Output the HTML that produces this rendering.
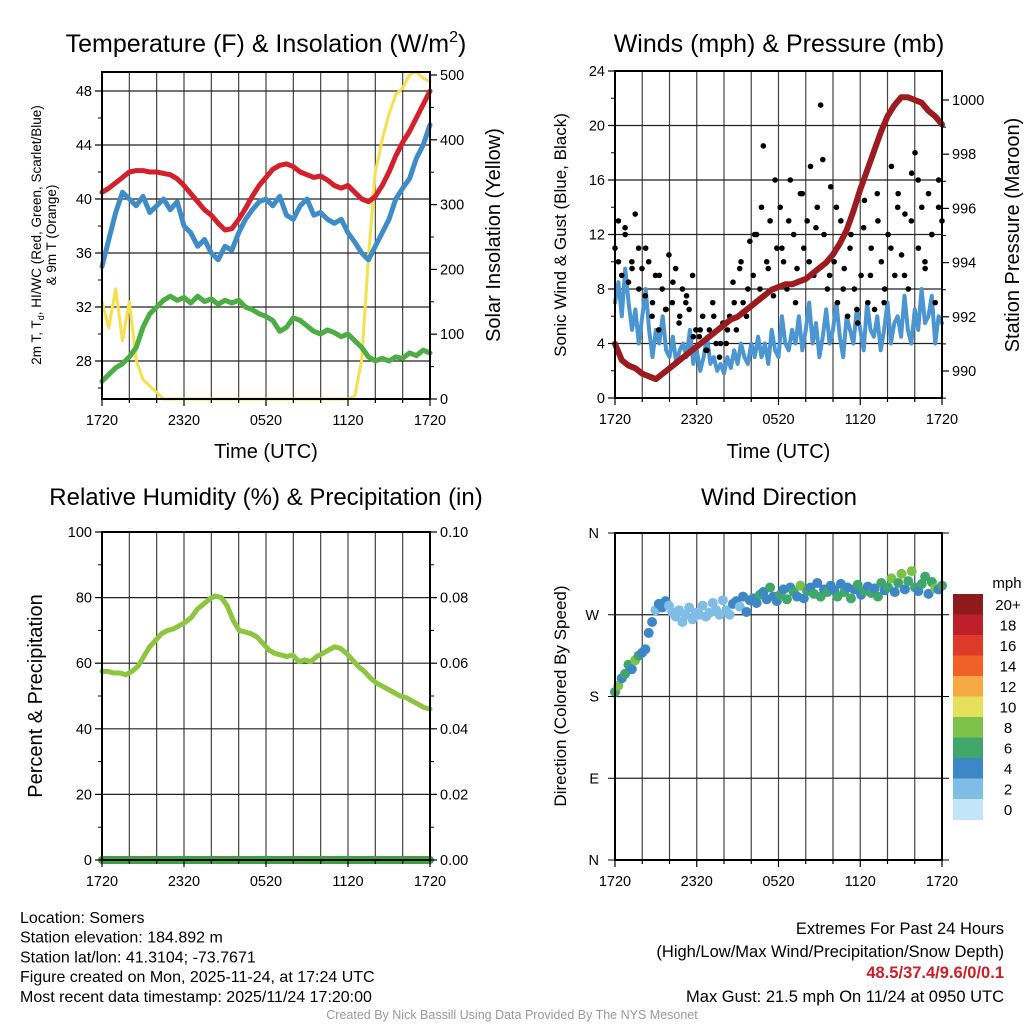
<!DOCTYPE html>
<html><head><meta charset="utf-8"><style>
body{margin:0;background:#fff}
svg{display:block;font-family:"Liberation Sans",sans-serif}
</style></head><body>
<svg id="c" width="1024" height="1024" viewBox="0 0 1024 1024"></svg>
<script>
// ---------- data ----------
const xTickLabels=["1720","2320","0520","1120","1720"];
const tempF=[40.5,40.8,41.2,41.6,42.0,42.1,42.1,42.0,42.0,41.9,41.8,41.5,41.0,40.4,39.8,39.2,38.8,38.2,37.7,37.8,38.5,39.3,40.2,41.0,41.6,42.2,42.5,42.6,42.4,42.0,41.8,41.6,41.7,41.4,41.0,40.8,41.0,40.5,40.0,39.8,40.2,41.0,42.0,43.2,44.2,45.0,46.0,47.0,48.0];
const windChill=[35,37,39,40.5,40,39.5,40.2,39,39.5,40,39.2,39.8,38,37.5,36.5,37,36,35.5,36.5,36.2,37.5,38.5,39.2,39.8,40,39.5,40.2,38.8,38.5,39.5,40,38.8,39,38.5,38.2,38.5,37.5,36.8,36,35.5,36.5,37.5,38.5,40,40.8,41.5,43,44,45.5];
const dewF=[26.5,27,27.5,27.8,28.3,29,30.5,31.5,32,32.5,32.8,32.5,32.7,32.3,32.8,32.4,32.6,32.2,32.5,32.3,32.5,32,31.8,31.5,31.3,31,30.2,30.5,31.2,31,30.6,30.2,30,30.3,30.1,29.8,30,29.5,29,28.3,28,28.2,28,28.3,28.2,28.6,28.4,28.8,28.6];
const solar=[150,110,170,90,150,60,30,20,10,0,0,0,0,0,0,0,0,0,0,0,0,0,0,0,0,0,0,0,0,0,0,0,0,0,0,0,0,5,60,220,350,400,440,470,480,500,505,495,490];
const windSpd=[7,8.5,6,9.5,7,5,6.5,4,6,8,5,3,5,4,6,3.5,3,4.5,2.5,3.5,4,3,5,2.5,3.5,2,3,4.5,2.5,3,2,2.5,1.8,3,2.2,3.5,2.5,4,3,2.5,4,3,4.5,3,4,2.5,5,3.5,3,6,4,3.5,5,4,6,3.5,5,7,4,5.5,3,4.5,6.5,4,5,7,4.5,3,6,5,4,6.5,5,3.5,7,5,4.5,6,3.5,5,7,4,5.5,6,4.5,7.5,5,4,6.5,5,8,5.5,6,7.5,4,6,5.5];
const gustA=[11,13,9,12.5,8.5,10,13.5,11,9.5,7.5,10,6,9,5,8,6.5,10.5,7,9.5,5.5,8,7,6.5,9,5,4.5,6,3.5,5,7,4,3,5.5,4,6,8.5,5,9.5,7,6,11.5,9,12,8,18.5,10,13,7.5,11,14,10,8,16,12,9.5,15,11,13,17,9,14,21.5,12,8,15.5,10,7,13,9.5,6,12,8,5.5,9,14.5,7,11,6.5,13,10,8,12,17,9,15,10.5,13.5,8,16.5,18,11,14,9.5,15,12,7,16,13];
const gustB=[10,12,9.5,8,11,7,9,6.5,8.5,6,7.5,4.5,5,3.5,6,4,5,7,10,8,12,14,9.5,16,11,13,7,15,10,12.5,17.5,9,14,8,11,6.5,12.5,9,15,7,11,14,9,13,16,10,12,14];
const pressure=[991,990.4,990.2,990.1,989.9,989.8,989.7,989.9,990.1,990.3,990.5,990.7,990.9,991.1,991.3,991.5,991.7,991.9,992.0,992.2,992.4,992.6,992.8,993.0,993.1,993.2,993.2,993.3,993.4,993.6,993.8,994.0,994.3,994.7,995.2,995.9,996.7,997.4,998.1,998.8,999.4,999.8,1000.1,1000.1,1000.0,999.9,999.6,999.4,999.1];
const rh=[57.5,57.5,57,57,56.5,57.5,59,62,65,67,69,70,70.5,71.5,72.5,74,76.5,78,79.5,80.5,80,77.5,73,70,69.5,69,68,66,64,63,62.5,62,62.5,60.5,61,60.5,62,63,64,65,64.5,63,61,59,57.5,55.5,54,53,52,51,50,49.5,48.5,47.5,46.5,46];
const precip=[0,0,0,0,0,0,0,0,0,0,0,0,0,0,0,0,0,0,0,0,0,0,0,0,0];
const windDir=[185,192,200,205,215,210,220,225,228,232,250,262,275,282,278,285,280,273,268,275,262,270,278,265,272,270,280,268,272,283,275,270,286,275,270,282,285,279,290,273,286,288,283,292,295,287,300,290,285,292,298,287,300,295,290,302,288,296,300,293,305,290,298,295,302,297,290,304,295,300,288,298,303,292,296,301,294,299,290,305,297,300,310,295,305,315,298,307,318,300,296,304,312,293,306,299,298,302];
const dirSpd=[7,8,5,6,7,5,8,6,5,5,4,5,3,4,5,4,3,3,2.5,3,2,3.5,3,2.5,3,2,3,2.5,3,2,3,2.5,3,3,3.5,4,5,3,4,5,4.5,5,4,6,5,4.5,6.5,5,4,6,5,7,4,6.5,5,8,4.5,6,5.5,7,4,6,5,6.5,4.5,5,6.5,4,7,5,6,4.5,7.5,5,6,4,6.5,5,7,6,4.5,6,8,5,7,8.5,4.5,7,8,6,5,7.5,6,4.5,7,8,5,6];
const cbLabels=["20+","18","16","14","12","10","8","6","4","2","0"];
const cbColors=["#8e1a1c","#bf1e2d","#de3a2a","#ef6128","#f6a943","#e5e05a","#7cc24a","#3fa76b","#3e87c6","#7fbde7","#c3e5f8"];

// ---------- helpers ----------
const svg=document.getElementById('c');
const NS='http://www.w3.org/2000/svg';
function el(tag,attrs,parent){const e=document.createElementNS(NS,tag);for(const k in attrs)e.setAttribute(k,attrs[k]);(parent||svg).appendChild(e);return e;}
function txt(s,x,y,size,attrs,parent){const t=el('text',Object.assign({x:x,y:y,'font-size':size,fill:'#000'},attrs||{}),parent);t.textContent=s;return t;}
function lin(d0,d1,r0,r1){return v=>r0+(v-d0)*(r1-r0)/(d1-d0);}
function timeX(arr,sx){return arr.map((v,i)=>sx(i*24/(arr.length-1)));}
function polyline(arr,sx,sy,color,w,name){
  const xs=timeX(arr,sx);
  const pts=arr.map((v,i)=>xs[i].toFixed(1)+','+sy(v).toFixed(1)).join(' ');
  const p=el('polyline',{points:pts,fill:'none',stroke:color,'stroke-width':w,'stroke-linejoin':'round','stroke-linecap':'round'});
  
  
  return p;
}
function frame(x0,y0,x1,y1,yGrid,name){
  const g=el('g',{});
  
  
  for(let h=0;h<=24;h+=2){const x=x0+(x1-x0)*h/24;el('line',{x1:x,y1:y0,x2:x,y2:y1,stroke:'#444','stroke-width':1.2},g);}
  yGrid.forEach(y=>el('line',{x1:x0,y1:y,x2:x1,y2:y,stroke:'#222','stroke-width':1.2},g));
  return g;
}
function border(x0,y0,x1,y1){el('rect',{x:x0,y:y0,width:x1-x0,height:y1-y0,fill:'none',stroke:'#000','stroke-width':2});}
function xAxis(x0,x1,y1,title,titleY){
  for(let h=0;h<=24;h+=2){const x=x0+(x1-x0)*h/24;el('line',{x1:x,y1:y1,x2:x,y2:y1+(h%6==0?7:4),stroke:'#000','stroke-width':1.2});}
  xTickLabels.forEach((s,i)=>{const t=txt(s,x0+(x1-x0)*i/4,y1+26,14.5,{'text-anchor':'middle'});});
  if(title){const t=txt(title,(x0+x1)/2,titleY,20,{'text-anchor':'middle'});}
}
function leftTicks(x0,vals,sy,minor,fmt){
  vals.forEach(v=>{const y=sy(v);el('line',{x1:x0-7,y1:y,x2:x0,y2:y,stroke:'#000','stroke-width':1.2});const t=txt(fmt?fmt(v):String(v),x0-10,y+5,14.5,{'text-anchor':'end'});});
  (minor||[]).forEach(v=>{const y=sy(v);el('line',{x1:x0-4,y1:y,x2:x0,y2:y,stroke:'#000','stroke-width':1});});
}
function rightTicks(x1,vals,sy,minor,fmt){
  vals.forEach(v=>{const y=sy(v);el('line',{x1:x1,y1:y,x2:x1+7,y2:y,stroke:'#000','stroke-width':1.2});const t=txt(fmt?fmt(v):String(v),x1+10,y+5,14.5,{'text-anchor':'start'});});
  (minor||[]).forEach(v=>{const y=sy(v);el('line',{x1:x1,y1:y,x2:x1+4,y2:y,stroke:'#000','stroke-width':1});});
}
function vtitle(s,x,y,size,name){const t=txt(s,x,y,size,{'text-anchor':'middle',transform:`rotate(-90 ${x} ${y})`});return t;}

// ---------- Panel 1 ----------
(function(){
 const x0=102,x1=430,y0=72,y1=399;
 const sx=lin(0,24,x0,x1), sy=lin(28,48,361,91), sy2=lin(0,500,399,75);
 frame(x0,y0,x1,y1,[28,32,36,40,44,48].map(sy),'temperature-grid');
 polyline(solar,sx,sy2,'#f7e04b',3,'insolation-line');
 polyline(dewF,sx,sy,'#4bad44',5,'dewpoint-line');
 polyline(windChill,sx,sy,'#3e8dc8',5,'wind-chill-line');
 polyline(tempF,sx,sy,'#d4202a',5,'temperature-line');
 border(x0,y0,x1,y1);
 leftTicks(x0,[28,32,36,40,44,48],sy,[26,30,34,38,42,46]);
 rightTicks(x1,[0,100,200,300,400,500],sy2,[50,150,250,350,450]);
 xAxis(x0,x1,y1,'Time (UTC)',458);
 const t=el('text',{x:266,y:52,'font-size':25,'text-anchor':'middle',fill:'#000'});
 t.innerHTML='Temperature (F) &amp; Insolation (W/m<tspan dy="-10" font-size="16">2</tspan><tspan dy="10">)</tspan>';
 const a=el('text',{x:0,y:0,'font-size':13.5,'text-anchor':'middle',transform:'translate(41,235) rotate(-90)',fill:'#000'});
 a.innerHTML='2m T, T<tspan font-size="9" dy="3">d</tspan><tspan dy="-3">, HI/WC (Red, Green, Scarlet/Blue)</tspan>';
 const a2=txt('& 9m T (Orange)',0,0,13.5,{'text-anchor':'middle',transform:'translate(56,235) rotate(-90)'});
 vtitle('Solar Insolation (Yellow)',500,235,20,'insolation-axis-title');
})();

// ---------- Panel 2 ----------
(function(){
 const x0=615,x1=942,y0=71,y1=398;
 const sx=lin(0,24,x0,x1), sy=lin(0,24,y1,y0), sy2=lin(990,1000,371,100);
 frame(x0,y0,x1,y1,[0,4,8,12,16,20,24].map(sy),'wind-grid');
 polyline(windSpd,sx,sy,'#4b95d0',4,'wind-speed-line');
 const g=el('g',{});
 timeX(gustA,sx).forEach((x,i)=>el('circle',{cx:x,cy:sy(gustA[i]),r:2.8,fill:'#000'},g));
 const xb=gustB.map((v,i)=>sx((i+0.5)*24/gustB.length));
 xb.forEach((x,i)=>el('circle',{cx:x,cy:sy(gustB[i]),r:2.8,fill:'#000'},g));
 polyline(pressure,sx,sy2,'#9b1b1e',6,'pressure-line');
 border(x0,y0,x1,y1);
 leftTicks(x0,[0,4,8,12,16,20,24],sy,[2,6,10,14,18,22]);
 rightTicks(x1,[990,992,994,996,998,1000],sy2,[989,991,993,995,997,999]);
 xAxis(x0,x1,y1,'Time (UTC)',458);
 txt('Winds (mph) & Pressure (mb)',779,52,25,{'text-anchor':'middle',});
 vtitle('Sonic Wind & Gust (Blue, Black)',566,235,17,'wind-y-axis-title');
 vtitle('Station Pressure (Maroon)',1019,235,20,'pressure-axis-title');
})();

// ---------- Panel 3 ----------
(function(){
 const x0=102,x1=430,y0=532,y1=860;
 const sx=lin(0,24,x0,x1), sy=lin(0,100,y1,y0), sy2=lin(0,0.1,y1,y0);
 frame(x0,y0,x1,y1,[0,20,40,60,80,100].map(sy),'humidity-grid');
 polyline(rh,sx,sy,'#8cc63f',5,'humidity-line');
 polyline(precip,sx,sy2,'#3fa040',8,'precip-line');
 border(x0,y0,x1,y1);
 leftTicks(x0,[0,20,40,60,80,100],sy,[10,30,50,70,90]);
 rightTicks(x1,[0,0.02,0.04,0.06,0.08,0.1],sy2,[0.01,0.03,0.05,0.07,0.09],v=>v.toFixed(2));
 xAxis(x0,x1,y1,null);
 txt('Relative Humidity (%) & Precipitation (in)',266,505,24,{'text-anchor':'middle',});
 vtitle('Percent & Precipitation',42,696,20,'humidity-y-axis-title');
})();

// ---------- Panel 4 ----------
(function(){
 const x0=615,x1=942,y0=533,y1=860;
 const sx=lin(0,24,x0,x1), sy=lin(0,360,y1,y0);
 frame(x0,y0,x1,y1,[0,90,180,270,360].map(sy),'direction-grid');
 const g=el('g',{});
 timeX(windDir,sx).forEach((x,i)=>{const bin=Math.min(10,Math.floor(dirSpd[i]/2));el('circle',{cx:x,cy:sy(windDir[i]),r:5,fill:cbColors[10-bin]},g);});
 border(x0,y0,x1,y1);
 const lbl=['N','E','S','W','N'];
 [0,90,180,270,360].forEach((v,i)=>{const y=sy(v);el('line',{x1:x0-7,y1:y,x2:x0,y2:y,stroke:'#000'});el('line',{x1:x1,y1:y,x2:x1+7,y2:y,stroke:'#000'});const t=txt(lbl[i],x0-16,y+5,14.5,{'text-anchor':'end'});});
 xAxis(x0,x1,y1,null);
 txt('Wind Direction',779,505,24,{'text-anchor':'middle',});
 vtitle('Direction (Colored By Speed)',566,696,17,'direction-y-axis-title');
 const cb=el('g',{});
 const by=594,bh=20.5;
 cbColors.forEach((c,i)=>{el('rect',{x:953,y:by+i*bh,width:30,height:bh+0.5,fill:c},cb);txt(cbLabels[i],1008,by+i*bh+16,15,{'text-anchor':'middle'},cb);});
 txt('mph',1007,588,15,{'text-anchor':'middle'},cb);
})();

// ---------- Footer ----------
const left=["Location: Somers","Station elevation: 184.892 m","Station lat/lon: 41.3104; -73.7671","Figure created on Mon, 2025-11-24, at 17:24 UTC","Most recent data timestamp: 2025/11/24 17:20:00"];
left.forEach((s,i)=>{const t=txt(s,20,923+i*19.7,16,{});});
txt('Extremes For Past 24 Hours',1004,934,16.5,{'text-anchor':'end',});
txt('(High/Low/Max Wind/Precipitation/Snow Depth)',1004,957,16.5,{'text-anchor':'end',});
txt('48.5/37.4/9.6/0/0.1',1004,978,16.5,{'text-anchor':'end',fill:'#cc2027','font-weight':'bold',});
txt('Max Gust: 21.5 mph On 11/24 at 0950 UTC',1004,1002,16.5,{'text-anchor':'end',});
txt('Created By Nick Bassill Using Data Provided By The NYS Mesonet',512,1019,12.5,{'text-anchor':'middle',fill:'#999',});
</script>
</body></html>
